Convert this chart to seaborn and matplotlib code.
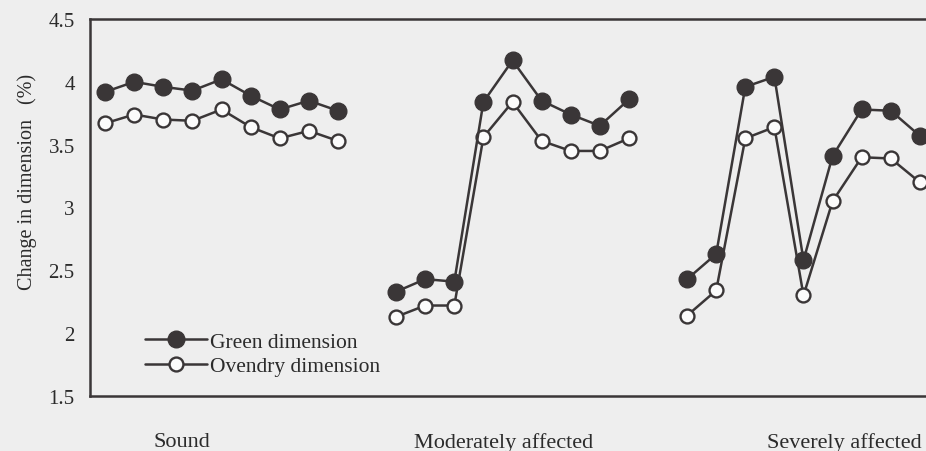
import numpy as np
import pandas as pd
import matplotlib
matplotlib.use("Agg")
import matplotlib.pyplot as plt
from matplotlib.lines import Line2D
import seaborn as sns

## DATOS ##

groups = ["Sound", "Moderately affected", "Severely affected"]
green = {
    "Sound": [3.92, 4.00, 3.96, 3.93, 4.02, 3.89, 3.78, 3.85, 3.77],
    "Moderately affected": [2.33, 2.43, 2.41, 3.84, 4.17, 3.85, 3.74, 3.65, 3.86],
    "Severely affected": [2.43, 2.63, 3.96, 4.04, 2.58, 3.41, 3.78, 3.77, 3.57],
}
ovendry = {
    "Sound": [3.67, 3.74, 3.70, 3.69, 3.78, 3.64, 3.55, 3.61, 3.53],
    "Moderately affected": [2.13, 2.22, 2.22, 3.56, 3.84, 3.53, 3.45, 3.45, 3.55],
    "Severely affected": [2.14, 2.34, 3.55, 3.64, 2.30, 3.05, 3.40, 3.39, 3.20],
}
y_ticks = [1.5, 2, 2.5, 3, 3.5, 4, 4.5]
y_tick_labels = ["1.5", "2", "2.5", "3", "3.5", "4", "4.5"]
series_names = ["Green dimension", "Ovendry dimension"]

## ARMAR EL DATAFRAME LARGO ##

rows = []
for g_idx, g in enumerate(groups):
    for name, serie in zip(series_names, [green, ovendry]):
        for i, v in enumerate(serie[g]):
            rows.append({"pos": g_idx * 10 + i, "value": v, "group": g, "dimension": name})
df = pd.DataFrame(rows)

## GRAFICO ##

sns.set_style("white")
plt.rcParams["font.family"] = ["Liberation Serif", "DejaVu Serif"]

ink = "#3a3637"
txt = "#2b2b2b"
bg = "#eeeeee"

fig = plt.figure(figsize=(9.26, 4.52), dpi=100, facecolor=bg)
ax = fig.add_axes([90 / 926, 55 / 452, 836 / 926, 377 / 452])
ax.set_facecolor(bg)

# ovendry primero, asi los puntos rellenos quedan encima
sns.lineplot(data=df[df["dimension"] == "Ovendry dimension"], x="pos", y="value",
             units="group", estimator=None, ax=ax, color=ink, linewidth=1.8,
             marker="o", markersize=10, markerfacecolor="#fbfbfb",
             markeredgecolor=ink, markeredgewidth=1.7, legend=False, zorder=3)
sns.lineplot(data=df[df["dimension"] == "Green dimension"], x="pos", y="value",
             units="group", estimator=None, ax=ax, color=ink, linewidth=1.8,
             marker="o", markersize=12, markerfacecolor=ink,
             markeredgecolor=ink, markeredgewidth=1, legend=False, zorder=4)

ax.set_xlim(-0.52, 28.21)
ax.set_ylim(1.5, 4.5)
ax.set_yticks(y_ticks)
ax.set_yticklabels(y_tick_labels, fontsize=15, color=txt)
ax.set_xticks([2.65, 13.7, 25.4])
ax.set_xticklabels(groups, fontsize=16, color=txt)
ax.tick_params(axis="x", length=0, pad=26)
ax.tick_params(axis="y", direction="out", length=5, width=1, color=ink, pad=6)
ax.set_xlabel("")
ax.set_ylabel("Change in dimension   (%)", fontsize=14.5, color=txt)
ax.yaxis.set_label_coords(-0.063, 0.57)

for side in ["left", "bottom", "top"]:
    ax.spines[side].set_color(ink)
    ax.spines[side].set_linewidth(1.8)
ax.spines["right"].set_visible(False)

handles = [
    Line2D([], [], color=ink, linewidth=1.8, marker="o", markersize=12,
           markerfacecolor=ink, markeredgecolor=ink),
    Line2D([], [], color=ink, linewidth=1.8, marker="o", markersize=10,
           markerfacecolor="#fbfbfb", markeredgecolor=ink, markeredgewidth=1.7),
]
leg = ax.legend(handles, series_names, loc="lower left", bbox_to_anchor=(0.055, 0.03),
                frameon=False, fontsize=15.5, handlelength=2.9, handletextpad=0.15,
                labelspacing=0.2, borderaxespad=0)
for t in leg.get_texts():
    t.set_color(txt)

fig.savefig("out.png", dpi=100, facecolor=bg)
